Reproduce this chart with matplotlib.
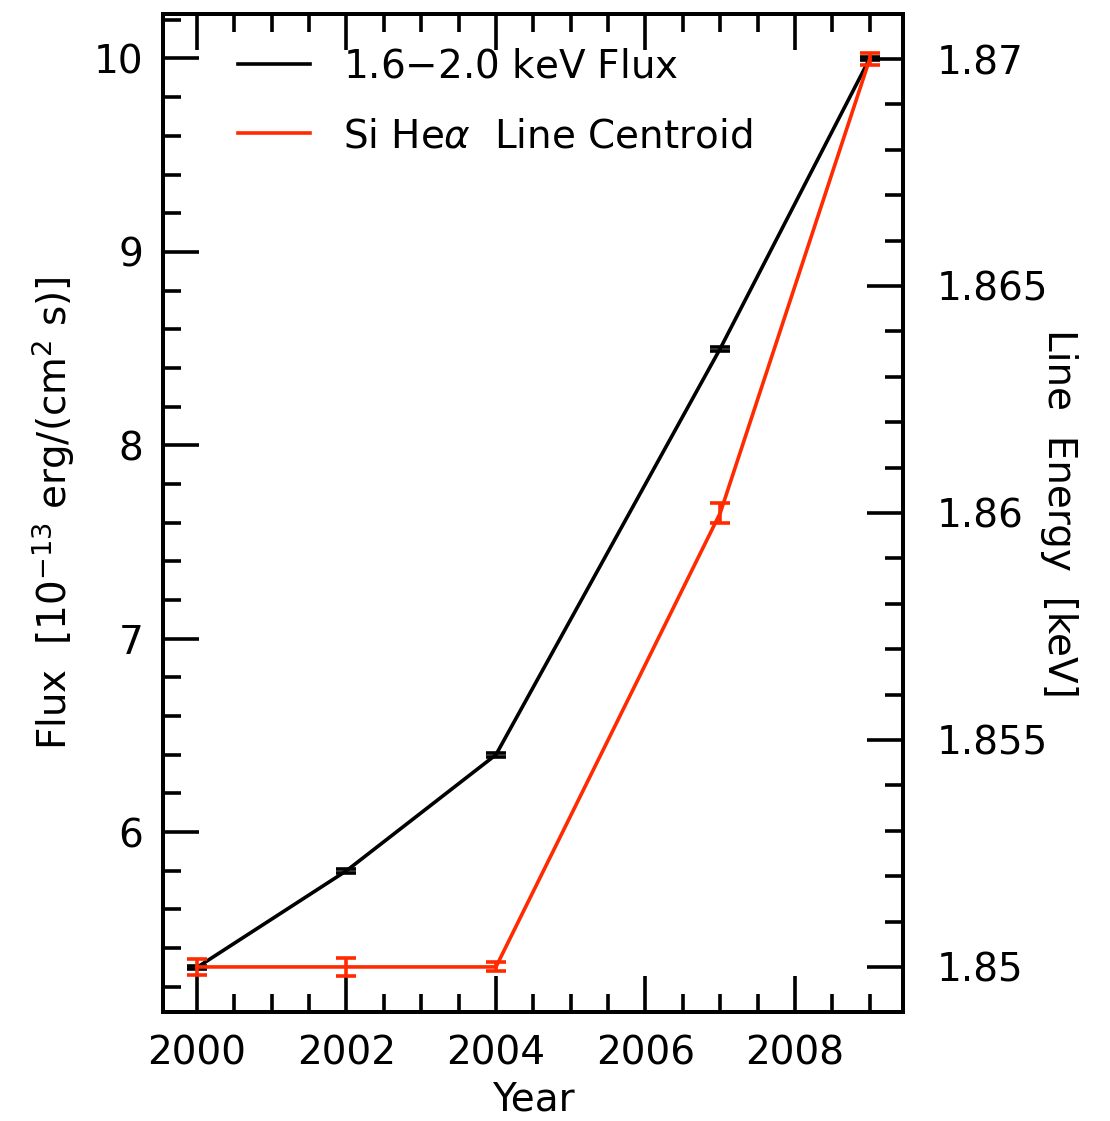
import matplotlib.pyplot as plt
from matplotlib.lines import Line2D
from matplotlib.ticker import MultipleLocator, FixedLocator

years = [2000, 2002, 2004, 2007, 2009]
flux = [5.3, 5.8, 6.4, 8.5, 10.0]
flux_err = [0.01, 0.01, 0.01, 0.01, 0.01]
centroid = [1.850, 1.850, 1.850, 1.860, 1.870]
centroid_err = [0.00018, 0.0002, 0.0001, 0.00021, 0.00013]

red = '#ff2a00'
lw = 2.6
plt.rcParams['font.family'] = 'DejaVu Sans'
plt.rcParams['font.size'] = 28

fig = plt.figure(figsize=(11.10, 11.21), dpi=100)
ax = fig.add_axes([0.1468, 0.0973, 0.6667, 0.8902])
ax2 = ax.twinx()

ax.errorbar(years, flux, yerr=flux_err, color='black', lw=lw,
            capsize=7, capthick=lw, elinewidth=lw)
ax2.errorbar(years, centroid, yerr=centroid_err, color=red, lw=lw,
             capsize=7, capthick=lw, elinewidth=lw)

ax.set_xlim(1999.545, 2009.445)
ax.set_ylim(5.07, 10.23)
ax2.set_ylim(1.849009, 1.870991)

ax.xaxis.set_major_locator(MultipleLocator(2))
ax.xaxis.set_minor_locator(MultipleLocator(0.5))
ax.yaxis.set_major_locator(MultipleLocator(1))
ax.yaxis.set_minor_locator(MultipleLocator(0.2))
ax2.yaxis.set_major_locator(FixedLocator([1.85, 1.855, 1.86, 1.865, 1.87]))
ax2.yaxis.set_minor_locator(MultipleLocator(0.001))
ax2.set_yticklabels(['1.85', '1.855', '1.86', '1.865', '1.87'])

ax.tick_params(which='both', direction='in', top=True, right=False, width=2.6)
ax.tick_params(axis='x', pad=16)
ax.tick_params(axis='y', pad=14)
ax.tick_params(which='major', length=26)
ax.tick_params(which='minor', length=13)
ax2.tick_params(which='both', direction='in', width=2.6, pad=24)
ax2.tick_params(which='major', length=26)
ax2.tick_params(which='minor', length=13)
for a in (ax, ax2):
    for s in a.spines.values():
        s.set_linewidth(2.8)

ax.set_xlabel('Year', labelpad=6)
ax.set_ylabel('Flux  [10$^{-13}$ erg/(cm$^2$ s)]', labelpad=12)
ax2.set_ylabel('Line  Energy  [keV]', rotation=270, labelpad=22)

handles = [Line2D([], [], color='black', lw=lw),
           Line2D([], [], color=red, lw=lw)]
labels = ['1.6$-$2.0 keV Flux', r'Si He$\alpha$  Line Centroid']
ax.legend(handles, labels, loc='upper left', frameon=False,
          handlelength=1.85, handletextpad=0.85, labelspacing=0.8,
          borderpad=0, borderaxespad=0, bbox_to_anchor=(0.101, 0.966))

fig.savefig('out.png', dpi=100)
